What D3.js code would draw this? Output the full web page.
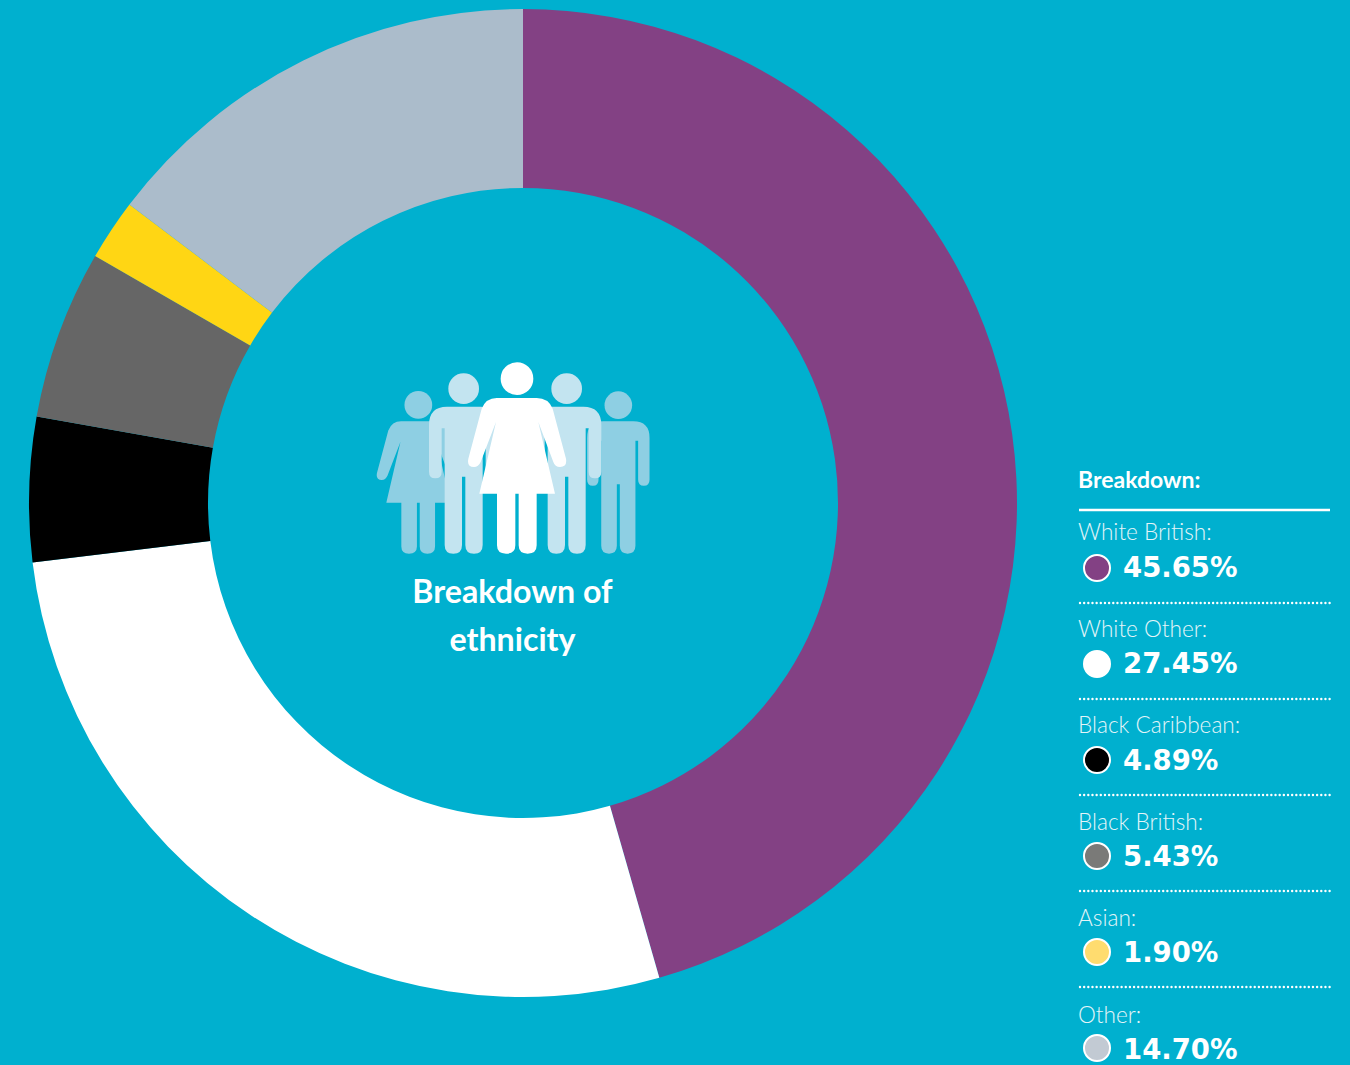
<!DOCTYPE html>
<html><head><meta charset="utf-8">
<script src="https://cdn.jsdelivr.net/npm/d3@7"></script>
<style>html,body{margin:0;padding:0;background:#00B0CF;overflow:hidden}svg{display:block}</style>
</head><body><div id="c"></div>
<script>
const categories = ["White British","White Other","Black Caribbean","Black British","Asian","Other"];
const values = [45.65,27.45,4.89,5.43,1.90,14.70];
// slice sizes as actually drawn in the picture (differ slightly from the printed labels)
const drawnShares = [45.55,27.53,4.72,5.53,2.00,14.67];
const sliceColors = ["#834184","#FFFFFF","#000000","#666666","#FFD614","#ABBCCB"];
const swatchColors = ["#834184","#FFFFFF","#000000","#7A7A78","#FFDC6F","#C2CAD3"];
const titleLines = ["Breakdown of","ethnicity"];
const legendTitle = "Breakdown:";

const W=1350,H=1065,BG="#00B0CF";
const svg=d3.select("#c").append("svg").attr("width",W).attr("height",H);
svg.append("rect").attr("width",W).attr("height",H).attr("fill",BG);

const pie=d3.pie().sort(null).value(d=>d);
const arc=d3.arc().innerRadius(315).outerRadius(494);
svg.append("g").attr("transform","translate(523,503)")
  .selectAll("path").data(pie(drawnShares)).join("path")
  .attr("d",arc).attr("fill",(d,i)=>sliceColors[i]);

// people pictogram, drawn around each figure's own centre, feet at y=0
const manPath="M-50,-441H50Q104,-441 104,-386V-246Q104,-226 85,-226Q66,-226 66,-246V-376H57V-26Q57,0 31,0Q5,0 5,-26V-231H-5V-26Q-5,0 -31,0Q-57,0 -57,-26V-376H-66V-246Q-66,-226 -85,-226Q-104,-226 -104,-246V-386Q-104,-441 -50,-441Z";
const womanPath="M-61,-467H59Q94,-467 107,-435L147,-285Q151,-260 129,-260Q114,-260 109,-275L64,-395L114,-180H59V-25Q59,0 32,0Q5,0 5,-25V-180H-5V-25Q-5,0 -33,0Q-60,0 -60,-25V-180H-113L-63,-395L-109,-275Q-116,-260 -129,-260Q-151,-260 -146,-285L-106,-435Q-93,-467 -61,-467Z";
function person(g,kind,cx,s,fill,headR,headY){
  const p=g.append("g").attr("transform",`translate(${cx},611) scale(${s})`).attr("fill",fill);
  p.append("path").attr("d",kind==="m"?manPath:womanPath);
  p.append("circle").attr("cx",0).attr("cy",headY).attr("r",headR);
}
const icon=svg.append("g").attr("transform","translate(360,350) scale(0.33333)");
person(icon,"w",175,0.85,"#8ECFE3",49,-525);
person(icon,"m",775,0.9,"#8ECFE3",46,-495);
person(icon,"m",311,1,"#C3E4F0",46,-495);
person(icon,"m",620,1,"#C3E4F0",46,-495);
person(icon,"w",471,1,"#FFFFFF",49,-525);

svg.selectAll("text.t").data(titleLines).join("text").attr("class","t")
  .attr("x",512.5).attr("y",(d,i)=>603+i*48).attr("text-anchor","middle")
  .attr("font-family","Lato").attr("font-weight",700).attr("font-size",32.2).attr("fill","#fff").text(d=>d);

// legend
const rowY=d3.scaleLinear().domain([0,5]).range([540,1023]);
const swatchY=d3.scaleLinear().domain([0,5]).range([568,1048]);
const valueY=d3.scaleLinear().domain([0,5]).range([577,1058.5]);
const ruleY=d3.scaleLinear().domain([0,4]).range([603,987]);
svg.append("text").attr("x",1078).attr("y",488).attr("font-family","Lato").attr("font-weight",700)
  .attr("font-size",23).attr("fill","#fff").text(legendTitle);
svg.append("line").attr("x1",1079).attr("x2",1330).attr("y1",510).attr("y2",510)
  .attr("stroke","#fff").attr("stroke-width",2.5);
const rows=svg.selectAll("g.r").data(categories).join("g").attr("class","r");
rows.append("text").attr("x",1078).attr("y",(d,i)=>rowY(i))
  .attr("font-family","Lato").attr("font-weight",300).attr("font-size",22.6).attr("fill","#E4F5F9").text(d=>d+":");
rows.append("circle").attr("cx",1097).attr("cy",(d,i)=>swatchY(i)).attr("r",13)
  .attr("fill",(d,i)=>swatchColors[i]).attr("stroke","#fff").attr("stroke-width",2);
rows.append("text").attr("x",1123).attr("y",(d,i)=>valueY(i))
  .attr("font-family","DejaVu Sans").attr("font-weight",700).attr("font-size",27.5).attr("fill","#fff")
  .text((d,i)=>values[i].toFixed(2)+"%");
rows.filter((d,i)=>i<5).append("line").attr("x1",1080).attr("x2",1330)
  .attr("y1",(d,i)=>ruleY(i)).attr("y2",(d,i)=>ruleY(i))
  .attr("stroke","#fff").attr("stroke-width",2.4).attr("stroke-linecap","round").attr("stroke-dasharray","0.01 4.15");
</script></body></html>
